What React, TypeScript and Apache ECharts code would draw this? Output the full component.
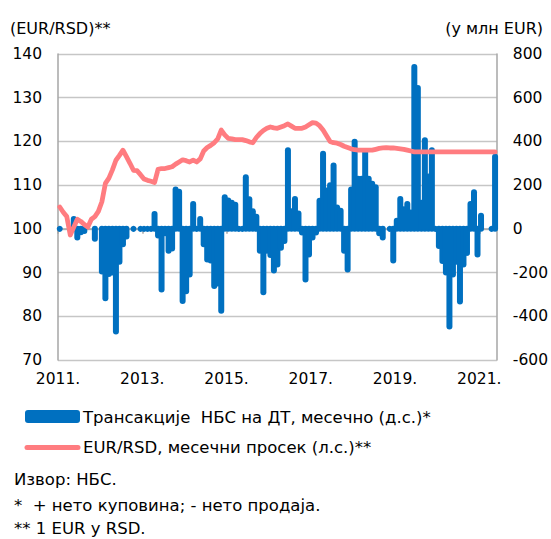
import { useEffect, useRef } from "react";
import * as echarts from "echarts";

// ---- data -------------------------------------------------------------
const START_YEAR = 2011;
const MONTH_COUNT = 125; // Jan 2011 – May 2021
const months = Array.from({ length: MONTH_COUNT }, (_, i) =>
  `${START_YEAR + Math.floor(i / 12)}-${String((i % 12) + 1).padStart(2, "0")}`
);
const tickMonths = [0, 24, 48, 72, 96, 120];
const tickLabels = ["2011.", "2013.", "2015.", "2017.", "2019.", "2021."];

// NBS net FX transactions, EUR mn (right axis); null = no mark
const fx2011 = [0, null, null, null, 45, -40, -15, -10, null, null, -45, null];
const fx2012 = [-195, -317, -207, -200, -470, -150, -70, -35, null, 0, null, 0];
const fx2013 = [0, 0, 0, 68, -30, -278, -20, -100, -90, 180, 170, -330];
const fx2014 = [-286, -209, 114, 0, 45, -70, -140, -145, -262, -250, -375, 145];
const fx2015 = [130, 120, 110, 0, 0, 236, 135, 80, 55, -100, -290, -100];
const fx2016 = [-120, -190, -163, -86, -55, 360, 80, 137, 70, -17, -232, -117];
const fx2017 = [-40, -17, 129, 344, 175, 200, 290, 98, 83, -100, -186, 180];
const fx2018 = [398, 229, 229, 355, 229, 206, 190, -20, -40, null, 0, -145];
const fx2019 = [37, 137, 90, 114, 75, 740, 645, 120, 405, 240, 360, 0];
const fx2020 = [-78, -147, -200, -447, -209, -150, -332, -163, -110, 114, 167, -117];
const fx2021 = [60, null, null, 0, 330];

// EUR/RSD monthly average (left axis)
const rsd2011 = [105.0, 103.8, 102.8, 98.6, 100.4, 102.2, 101.7, 101.0, 100.4, 102.2, 102.8, 104.0];
const rsd2012 = [106.2, 110.4, 111.6, 113.5, 115.7, 116.8, 118.0, 116.5, 115.0, 113.4, 113.3, 112.4];
const rsd2013 = [111.4, 111.1, 110.9, 110.6, 113.6, 113.8, 113.8, 114.0, 114.2, 114.8, 115.3, 115.8];
const rsd2014 = [115.6, 115.3, 115.7, 115.3, 116.0, 117.8, 118.6, 119.1, 119.7, 120.6, 122.6, 121.5];
const rsd2015 = [120.7, 120.6, 120.4, 120.4, 120.4, 120.2, 119.9, 119.7, 120.9, 121.8, 122.5, 123.0];
const rsd2016 = [123.3, 123.1, 123.0, 123.3, 123.6, 124.0, 123.5, 123.0, 123.0, 123.0, 123.3, 123.8];
const rsd2017 = [124.3, 124.2, 123.6, 122.6, 121.3, 120.0, 119.7, 119.6, 119.3, 118.9, 118.6, 118.3];
const rsd2018 = [118.1, 118.0, 118.0, 118.0, 118.0, 118.0, 118.2, 118.4, 118.5, 118.6, 118.5, 118.5];
const rsd2019 = [118.4, 118.3, 118.2, 118.0, 117.8, 117.6, 117.6, 117.6, 117.6, 117.6, 117.6, 117.6];
const rsd2020 = [117.6, 117.6, 117.6, 117.6, 117.6, 117.6, 117.6, 117.6, 117.6, 117.6, 117.6, 117.6];
const rsd2021 = [117.6, 117.6, 117.6, 117.6, 117.6];

const fxAll: (number | null)[] = [
  ...fx2011, ...fx2012, ...fx2013, ...fx2014, ...fx2015, ...fx2016,
  ...fx2017, ...fx2018, ...fx2019, ...fx2020, ...fx2021,
];
const rsdAll: number[] = [
  ...rsd2011, ...rsd2012, ...rsd2013, ...rsd2014, ...rsd2015, ...rsd2016,
  ...rsd2017, ...rsd2018, ...rsd2019, ...rsd2020, ...rsd2021,
];

const legendFx = "Трансакције  НБС на ДТ, месечно (д.с.)*";
const legendRsd = "EUR/RSD, месечни просек (л.с.)**";
const leftTitle = "(EUR/RSD)**";
const rightTitle = "(у млн EUR)";
const notes = ["Извор: НБС.", "*  + нето куповина; - нето продаја.", "** 1 EUR у RSD."];

// ---- styles -----------------------------------------------------------
const BLUE = "#0070C0";
const PINK = "#FF7C80";
const FONT = "DejaVu Sans";
const FS = 15.5;
const FS_LEGEND = 16.5;
const AXIS_GRAY = "#A6A6A6";
const GRID_GRAY = "#C6C6C6";

export default function App() {
  const ref = useRef<HTMLDivElement>(null);

  useEffect(() => {
    document.body.style.margin = "0";
    const chart = echarts.init(ref.current!, null, { renderer: "svg" });

    const barData = fxAll
      .map((v, i) => (v === null ? null : [i + 0.5, v, months[i]]))
      .filter((d) => d !== null);
    const lineData = rsdAll.map((v, i) => [i + 0.5, v, months[i]]);

    const textStyle = { fontFamily: FONT, fontSize: FS, fill: "#000" };
    const legendStyle = { fontFamily: FONT, fontSize: FS_LEGEND, fill: "#000" };

    chart.setOption({
      animation: false,
      grid: { left: 58, top: 54, right: 54, height: 306 },
      xAxis: {
        type: "value",
        min: 0,
        max: MONTH_COUNT,
        axisLine: { show: true, lineStyle: { color: AXIS_GRAY, width: 1.5 } },
        axisTick: {
          show: true,
          length: 5,
          customValues: tickMonths,
          lineStyle: { color: AXIS_GRAY, width: 1.5 },
        },
        axisLabel: {
          customValues: tickMonths,
          formatter: (v: number) => tickLabels[tickMonths.indexOf(v)] ?? "",
          margin: 11,
          color: "#000",
          fontFamily: FONT,
          fontSize: FS,
        },
        splitLine: { show: false },
      },
      yAxis: [
        {
          type: "value",
          min: 70,
          max: 140,
          interval: 10,
          axisLine: { show: true, lineStyle: { color: AXIS_GRAY, width: 1.5 } },
          axisTick: { show: false },
          axisLabel: { margin: 16, color: "#000", fontFamily: FONT, fontSize: FS },
          splitLine: { show: true, lineStyle: { color: GRID_GRAY, width: 1.3 } },
        },
        {
          type: "value",
          position: "right",
          min: -600,
          max: 800,
          interval: 200,
          axisLine: { show: true, lineStyle: { color: AXIS_GRAY, width: 1.5 } },
          axisTick: { show: false },
          axisLabel: { margin: 16, color: "#000", fontFamily: FONT, fontSize: FS },
          splitLine: { show: false },
        },
      ],
      series: [
        {
          type: "custom",
          name: legendFx,
          yAxisIndex: 1,
          clip: false,
          data: barData,
          encode: { x: 0, y: 1 },
          renderItem: (_p: any, api: any) => {
            const x = api.value(0);
            const v = api.value(1);
            const base = api.coord([x, 0]);
            const tip = api.coord([x, v]);
            if (v === 0) {
              return {
                type: "circle",
                shape: { cx: base[0], cy: base[1], r: 3 },
                style: { fill: BLUE },
              };
            }
            return {
              type: "line",
              shape: { x1: base[0], y1: base[1], x2: tip[0], y2: tip[1] },
              style: { stroke: BLUE, lineWidth: 6, lineCap: "round" },
            };
          },
          z: 2,
        },
        {
          type: "line",
          name: legendRsd,
          yAxisIndex: 0,
          data: lineData,
          symbol: "none",
          lineStyle: { color: PINK, width: 4.8, cap: "round", join: "round" },
          z: 3,
        },
      ],
      graphic: [
        { type: "text", left: 10, top: 20, style: { ...legendStyle, fontSize: 16, text: leftTitle } },
        { type: "text", right: 8, top: 20, style: { ...legendStyle, fontSize: 16, text: rightTitle } },
        {
          type: "rect",
          shape: { x: 25, y: 410, width: 55, height: 13, r: 3 },
          style: { fill: BLUE },
        },
        {
          type: "text",
          x: 83,
          y: 417,
          style: { ...legendStyle, text: legendFx, verticalAlign: "middle" },
        },
        {
          type: "line",
          shape: { x1: 27, y1: 447.5, x2: 78, y2: 447.5 },
          style: { stroke: PINK, lineWidth: 5, lineCap: "round" },
        },
        {
          type: "text",
          x: 83,
          y: 447,
          style: { ...legendStyle, text: legendRsd, verticalAlign: "middle" },
        },
        ...notes.map((t, i) => ({
          type: "text",
          x: 14,
          y: [479, 505, 528][i],
          style: { ...legendStyle, text: t, verticalAlign: "middle" },
        })),
      ],
    });

    return () => chart.dispose();
  }, []);

  return <div ref={ref} style={{ width: 551, height: 539 }} />;
}
